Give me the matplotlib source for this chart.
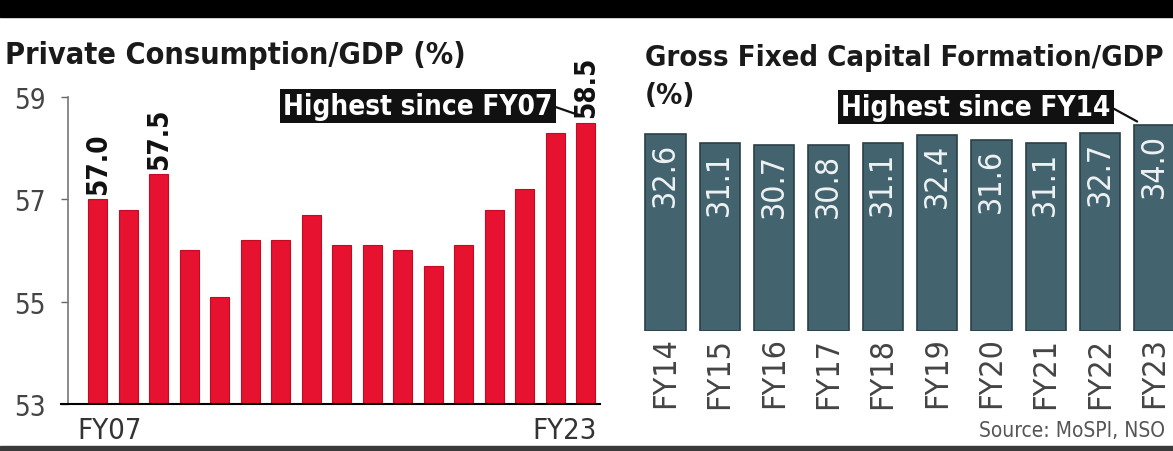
import matplotlib
matplotlib.use('Agg')
import matplotlib.pyplot as plt
from matplotlib.patches import Rectangle

plt.rcParams['font.family'] = ['DejaVu Sans Condensed', 'DejaVu Sans']
plt.rcParams['font.stretch'] = 'condensed'

# private consumption / GDP, FY07..FY23
pc_years = ['FY07', 'FY08', 'FY09', 'FY10', 'FY11', 'FY12', 'FY13', 'FY14', 'FY15',
            'FY16', 'FY17', 'FY18', 'FY19', 'FY20', 'FY21', 'FY22', 'FY23']
pc_vals = [57.0, 56.8, 57.5, 56.0, 55.1, 56.2, 56.2, 56.7, 56.1,
           56.1, 56.0, 55.7, 56.1, 56.8, 57.2, 58.3, 58.5]
pc_labelled = ['FY07', 'FY09', 'FY23']
pc_ticks = [59, 57, 55, 53]

# gross fixed capital formation / GDP
gf_years = ['FY14', 'FY15', 'FY16', 'FY17', 'FY18', 'FY19', 'FY20', 'FY21', 'FY22', 'FY23']
gf_vals = [32.6, 31.1, 30.7, 30.8, 31.1, 32.4, 31.6, 31.1, 32.7, 34.0]

W, H = 1173, 452
fig = plt.figure(figsize=(W / 100, H / 100), dpi=100)

def rect(x0, y0, x1, y1):
    # pixel box (top-left origin) -> figure fraction
    return [x0 / W, 1 - y1 / H, (x1 - x0) / W, (y1 - y0) / H]

# top banner and bottom rule
fig.add_artist(Rectangle((0, 1 - 18 / H), 1, 18 / H, transform=fig.transFigure,
                         color='black', zorder=0))
fig.add_artist(Rectangle((0, 0), 1, 5 / H, transform=fig.transFigure,
                         color='#3a3a3a', zorder=0))

# ---- left panel
ax1 = fig.add_axes(rect(68, 98, 600, 405))
x1 = list(range(len(pc_vals)))
ax1.bar(x1, pc_vals, width=0.62, color='#e6122f', edgecolor='#c20c24', lw=0.8)
ax1.set_ylim(53, 59)
ax1.set_xlim(-0.97, 16.46)
ax1.set_yticks(pc_ticks)
ax1.set_yticklabels([str(t) for t in pc_ticks], fontsize=20, color='#444444')
ax1.tick_params(axis='y', length=5, width=1, color='#666666', pad=11)
ax1.set_xticks([])
for s in ['top', 'right']:
    ax1.spines[s].set_visible(False)
ax1.spines['left'].set_color('#777777')
ax1.spines['left'].set_linewidth(1.2)
ax1.spines['bottom'].set_color('black')
ax1.spines['bottom'].set_linewidth(1.5)
ax1.spines['bottom'].set_bounds(-1.2, 16.46)
ax1.spines['bottom'].set_clip_on(False)

for i, (yr, v) in enumerate(zip(pc_years, pc_vals)):
    if yr in pc_labelled:
        ax1.text(i, v + 0.1, '%.1f' % v, rotation=90, ha='center', va='bottom',
                 fontsize=20, fontweight='bold', color='#111111', clip_on=False)

ax1.text(-0.65, 52.5, pc_years[0], ha='left', va='center', fontsize=21, color='#333333')
ax1.text(16.35, 52.5, pc_years[-1], ha='right', va='center', fontsize=21, color='#333333')

ax1.annotate('Highest since FY07', xy=(15.75, pc_vals[-1] + 0.15),
             xytext=(418 / W, 1 - 107 / H), textcoords='figure fraction',
             ha='center', va='center', fontsize=20, fontweight='bold', color='white',
             bbox=dict(boxstyle='square,pad=0.12', fc='#111111', ec='none'),
             arrowprops=dict(arrowstyle='-', color='#111111', lw=1.6,
                             relpos=(1, 0.5), shrinkA=0, shrinkB=0))

fig.text(5 / W, 1 - 55 / H, 'Private Consumption/GDP (%)', ha='left', va='center',
         fontsize=22, fontweight='bold', color='#1a1a1a')

# ---- right panel
ax2 = fig.add_axes(rect(640, 108, 1173, 332))
x2 = list(range(len(gf_vals)))
ax2.bar(x2, gf_vals, width=0.74, color='#43636f', edgecolor='#2c4048', lw=1.2)
ax2.set_ylim(0, 37)
ax2.set_xlim(-0.47, 9.34)
ax2.set_yticks([])
ax2.set_xticks(x2)
ax2.set_xticklabels(gf_years, rotation=90, fontsize=23, color='#444444')
ax2.tick_params(axis='x', length=0, pad=4)
for s in ax2.spines.values():
    s.set_visible(False)

for i, v in enumerate(gf_vals):
    ax2.text(i, v - 1.3, '%.1f' % v, rotation=90, ha='center', va='top',
             fontsize=23, color='#eef2f3')

ax2.annotate('Highest since FY14', xy=(8.68, gf_vals[-1] + 0.6),
             xytext=(976 / W, 1 - 108 / H), textcoords='figure fraction',
             ha='center', va='center', fontsize=20, fontweight='bold', color='white',
             bbox=dict(boxstyle='square,pad=0.12', fc='#111111', ec='none'),
             arrowprops=dict(arrowstyle='-', color='#111111', lw=1.6,
                             relpos=(1, 0.5), shrinkA=0, shrinkB=0),
             annotation_clip=False)

fig.text(645 / W, 1 - 58 / H, 'Gross Fixed Capital Formation/GDP', ha='left',
         va='center', fontsize=21, fontweight='bold', color='#1a1a1a')
fig.text(645 / W, 1 - 96 / H, '(%)', ha='left',
         va='center', fontsize=21, fontweight='bold', color='#1a1a1a')
fig.text(1165 / W, 1 - 431 / H, 'Source: MoSPI, NSO', ha='right', va='center',
         fontsize=15, color='#555555')

fig.savefig('out.png', dpi=100)
